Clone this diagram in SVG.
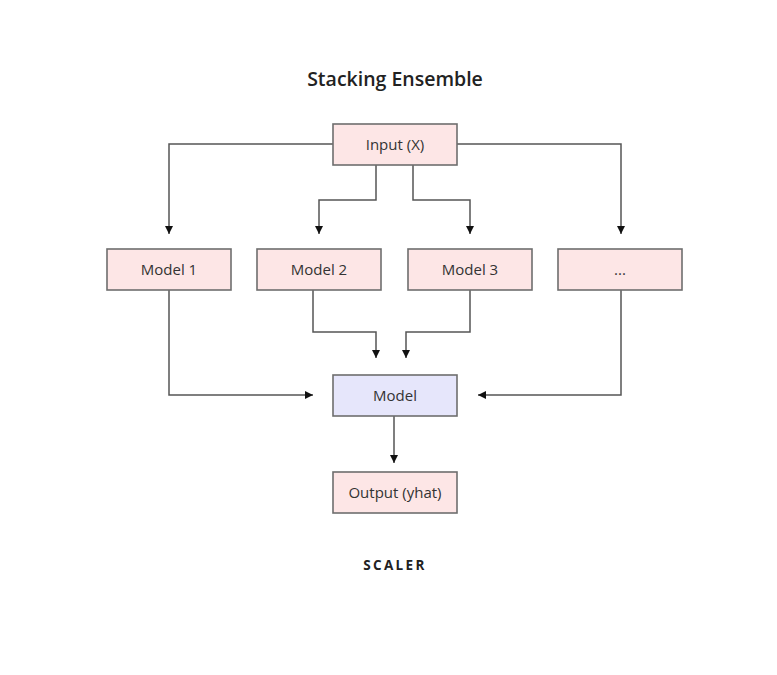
<svg xmlns="http://www.w3.org/2000/svg" width="777" height="675" viewBox="0 0 777 675">
<defs>
<marker id="arr" viewBox="0 0 10 10" refX="10" refY="5" markerWidth="8" markerHeight="8" markerUnits="userSpaceOnUse" orient="auto">
<path d="M0,0 L10,5 L0,10 z" fill="#111"/>
</marker>
</defs>
<style>
.box{fill:#fde6e6;stroke:#6e6e6e;stroke-width:1.6}
.meta{fill:#e6e6fb;stroke:#6e6e6e;stroke-width:1.6}
.lbl{font-family:"Open Sans","Liberation Sans",sans-serif;font-size:15px;fill:#333;text-anchor:middle;dominant-baseline:central}
.edge{fill:none;stroke:#555;stroke-width:1.5;marker-end:url(#arr)}
</style>
<rect width="777" height="675" fill="#fff"/>
<text x="395" y="78.5" font-family="'Open Sans','Liberation Sans',sans-serif" font-size="19.5" font-weight="600" fill="#222" text-anchor="middle" dominant-baseline="central">Stacking Ensemble</text>
<g id="connectors">
<path class="edge" d="M333,144 H169 V234"/>
<path class="edge" d="M376,165 V200 H319 V234"/>
<path class="edge" d="M413,165 V200 H470 V234"/>
<path class="edge" d="M457,144 H621 V234"/>
<path class="edge" d="M169,290 V395 H313"/>
<path class="edge" d="M313,290 V332 H376 V358"/>
<path class="edge" d="M470,290 V332 H406 V358"/>
<path class="edge" d="M621,290 V395 H478"/>
<path class="edge" d="M394,416 V463"/>
</g>
<g id="input"><rect class="box" x="333" y="124" width="124" height="41"/><text class="lbl" x="395" y="144">Input (X)</text></g>
<g id="model1"><rect class="box" x="107" y="249" width="124" height="41"/><text class="lbl" x="169" y="269">Model 1</text></g>
<g id="model2"><rect class="box" x="257" y="249" width="124" height="41"/><text class="lbl" x="319" y="269">Model 2</text></g>
<g id="model3"><rect class="box" x="408" y="249" width="124" height="41"/><text class="lbl" x="470" y="269">Model 3</text></g>
<g id="modeln"><rect class="box" x="558" y="249" width="124" height="41"/><text class="lbl" x="620" y="269">...</text></g>
<g id="meta"><rect class="meta" x="333" y="375" width="124" height="41"/><text class="lbl" x="395" y="395">Model</text></g>
<g id="output"><rect class="box" x="333" y="472" width="124" height="41"/><text class="lbl" x="395" y="492">Output (yhat)</text></g>
<text x="395" y="564.5" font-family="'Open Sans','Liberation Sans',sans-serif" font-size="13.5" font-weight="700" letter-spacing="2.3" fill="#222" text-anchor="middle" dominant-baseline="central">SCALER</text>
</svg>
